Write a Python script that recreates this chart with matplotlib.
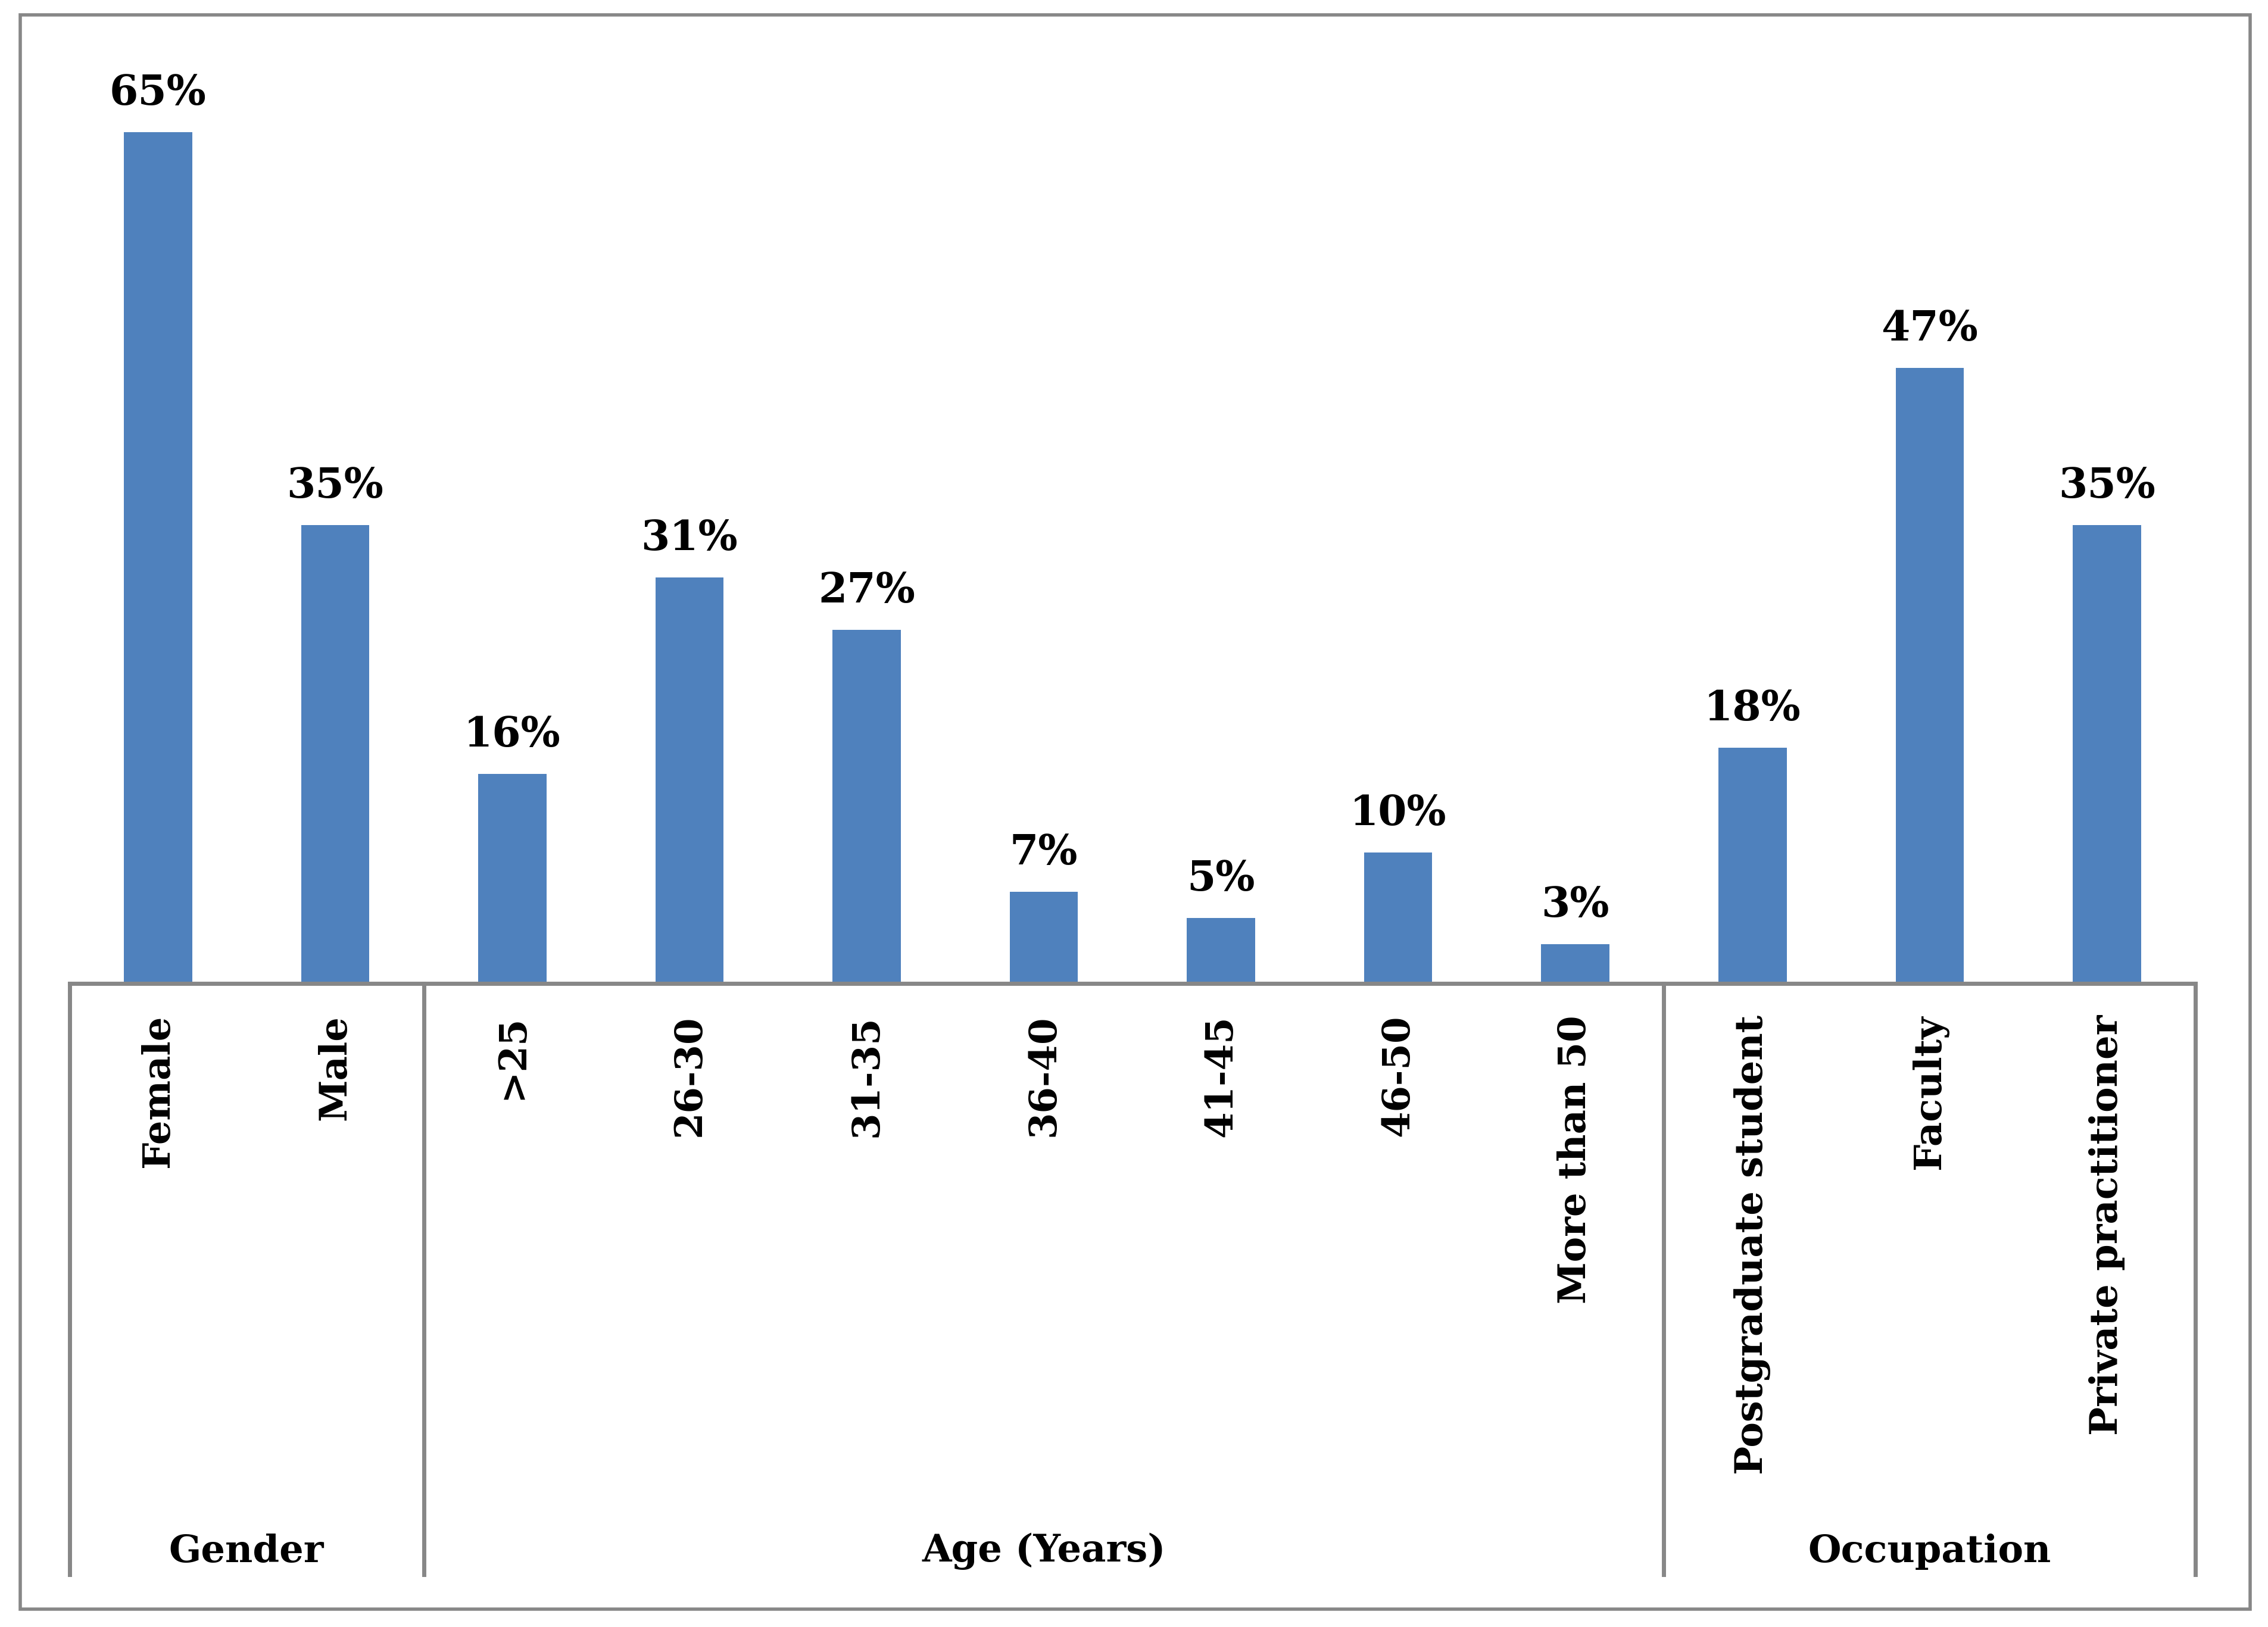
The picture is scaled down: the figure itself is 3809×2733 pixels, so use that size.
import matplotlib.pyplot as plt
from matplotlib.patches import Rectangle

# categories and values (percent)
categories = ['Female', 'Male', '>25', '26-30', '31-35', '36-40', '41-45',
              '46-50', 'More than 50', 'Postgraduate student', 'Faculty',
              'Private practitioner']
values = [65, 35, 16, 31, 27, 7, 5, 10, 3, 18, 47, 35]
groups = ['Gender', 'Age (Years)', 'Occupation']
group_sizes = [2, 7, 3]

bar_color = '#4F81BD'
line_color = '#878787'
font = ['DejaVu Serif']

fig = plt.figure(figsize=(38.09, 27.33), dpi=100)
ax = fig.add_axes([0.0306, 0.3955, 0.9374, 0.5635])

x = list(range(len(categories)))
bars = ax.bar(x, values, width=0.385, color=bar_color)

for xi, v in zip(x, values):
    ax.annotate(f'{v}%', (xi, v), xytext=(0, 33), textcoords='offset points',
                ha='center', va='baseline', fontsize=50, fontweight='bold',
                family=font)

ax.set_xlim(-0.5, len(categories) - 0.5)
ax.set_ylim(0, 70)
ax.set_yticks([])
for s in ['top', 'left', 'right']:
    ax.spines[s].set_visible(False)
ax.spines['bottom'].set_color(line_color)
ax.spines['bottom'].set_linewidth(5)

ax.set_xticks(x)
ax.set_xticklabels(categories, rotation=90, fontsize=46, fontweight='bold',
                   family=font, va='top')
ax.tick_params(axis='x', length=0, pad=38)

# group separators and group labels
trans = ax.get_xaxis_transform()
y_low = -0.645
start = -0.5
ax.plot([start, start], [0, y_low], color=line_color, lw=5,
        transform=trans, clip_on=False)
for name, size in zip(groups, group_sizes):
    end = start + size
    ax.plot([end, end], [0, y_low], color=line_color, lw=5,
            transform=trans, clip_on=False)
    ax.text((start + end) / 2, -0.6195, name, transform=trans, ha='center',
            va='center', fontsize=46, fontweight='bold', family=font)
    start = end

# outer border
fig.patches.append(Rectangle((0.009, 0.011), 0.983, 0.980, fill=False,
                             edgecolor=line_color, lw=4,
                             transform=fig.transFigure, figure=fig))

fig.savefig('out.png', dpi=100, facecolor='white')
